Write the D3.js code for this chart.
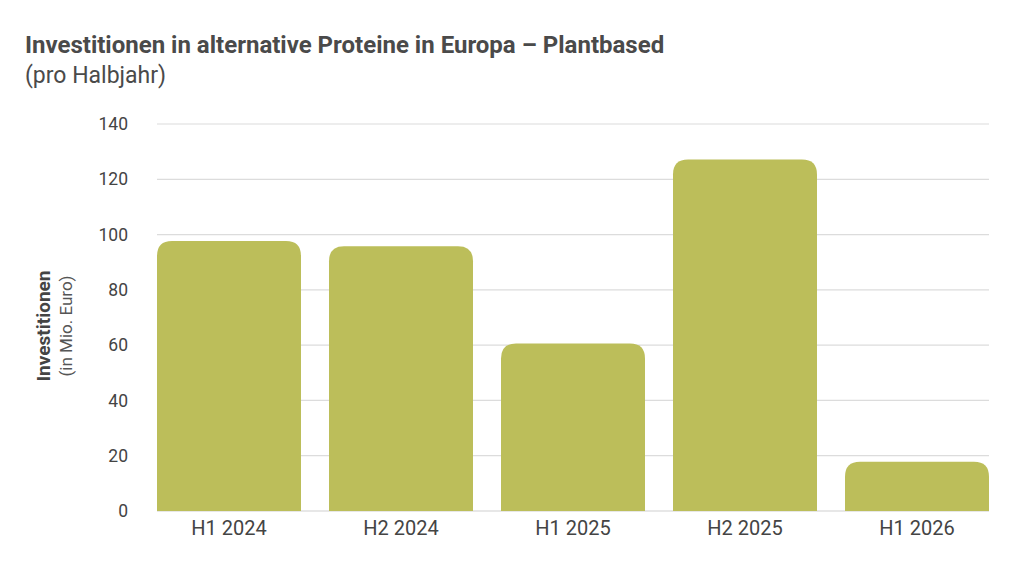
<!DOCTYPE html>
<html><head><meta charset="utf-8">
<script src="https://cdn.jsdelivr.net/npm/d3@7"></script>
<style>body{margin:0;background:#fff;}svg{display:block;font-family:Roboto,"Noto Sans",sans-serif;}</style>
</head><body>
<svg id="c" width="1024" height="576"></svg>
<script>
const categories = ["H1 2024","H2 2024","H1 2025","H2 2025","H1 2026"];
const values = [97.7, 95.8, 60.6, 127.2, 17.8];
const yTicks = [0,20,40,60,80,100,120,140];

const svg = d3.select("#c");
const M = {left:157, right:989, top:124, bottom:511};
const x = d3.scaleBand().domain(categories).range([M.left, M.right]).paddingInner(28/172).paddingOuter(0);
const y = d3.scaleLinear().domain([0,140]).range([M.bottom, M.top]);

svg.append("text").attr("x",25).attr("y",53).attr("fill","#4a4a4a")
  .attr("font-size",24).attr("font-weight",700).text("Investitionen in alternative Proteine in Europa – Plantbased");
svg.append("text").attr("x",25).attr("y",83).attr("fill","#4a4a4a")
  .attr("font-size",23).text("(pro Halbjahr)");

// gridlines
svg.append("g").selectAll("line").data(yTicks).join("line")
  .attr("x1",M.left).attr("x2",M.right)
  .attr("y1",d=>y(d)).attr("y2",d=>y(d))
  .attr("stroke",d=>d===0?"#cfcfcf":"#dcdcdc").attr("stroke-width",1.2);

// y axis labels
const yAxis = d3.axisLeft(y).tickValues(yTicks).tickSize(0).tickPadding(0);
const gy = svg.append("g").attr("transform",`translate(128,0)`).call(yAxis);
gy.select(".domain").remove();
gy.selectAll("text").attr("fill","#444").attr("font-size",17.5).attr("font-family","Roboto,sans-serif");

// bars with rounded top corners
const r = 15;
function barPath(x0,w,yt,yb){
  const rr = Math.min(r, (yb-yt), w/2);
  return `M${x0},${yb}V${yt+rr}Q${x0},${yt} ${x0+rr},${yt}H${x0+w-rr}Q${x0+w},${yt} ${x0+w},${yt+rr}V${yb}Z`;
}
svg.append("g").selectAll("path").data(categories.map((c,i)=>({c,v:values[i]}))).join("path")
  .attr("d",d=>barPath(x(d.c), x.bandwidth(), y(d.v), y(0)))
  .attr("fill","#bcbe5a");

// x axis
const xAxis = d3.axisBottom(x).tickSize(0).tickPadding(10);
const gx = svg.append("g").attr("transform",`translate(0,${M.bottom})`).call(xAxis);
gx.select(".domain").remove();
gx.selectAll("text").attr("fill","#444").attr("font-size",20).attr("font-family","Roboto,sans-serif");

// y title
const yt = svg.append("text").attr("transform","translate(50,326) rotate(-90)").attr("text-anchor","middle");
yt.append("tspan").attr("x",0).attr("fill","#444").attr("font-size",19).attr("font-weight",700).text("Investitionen");
yt.append("tspan").attr("x",0).attr("dy",22).attr("fill","#555").attr("font-size",17).text("(in Mio. Euro)");
</script>
</body></html>
